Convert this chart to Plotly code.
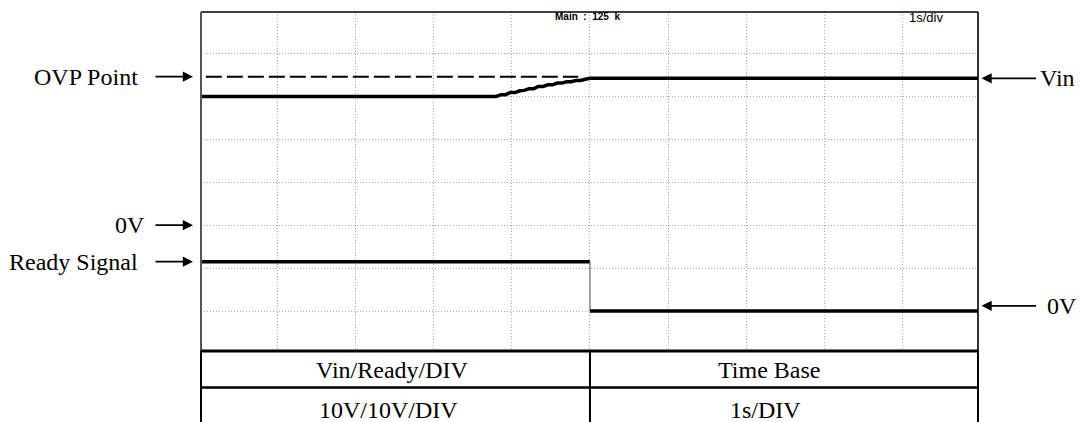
import plotly.graph_objects as go

# Oscilloscope capture of an over-voltage event, in screen divisions
# (x: 1 s/div, y: 10 V/div)
vin_time = [0.0, 3.80, 3.86, 3.92, 3.98, 4.04, 4.10, 4.16, 4.22, 4.28, 4.34,
            4.40, 4.46, 4.52, 4.58, 4.64, 4.70, 4.76, 4.82, 4.88, 4.94, 5.00, 10.0]
vin_level = [6.00, 6.00, 6.04, 6.04, 6.09, 6.09, 6.13, 6.14, 6.18, 6.18, 6.23,
             6.23, 6.27, 6.27, 6.31, 6.31, 6.34, 6.34, 6.37, 6.37, 6.40, 6.42, 6.42]

ovp_time = [0.08, 4.85]
ovp_level = [6.46, 6.46]

ready_high_time = [0.0, 5.0]
ready_high_level = [2.15, 2.15]
ready_edge_time = [5.0, 5.0]
ready_edge_level = [2.15, 1.0]
ready_low_time = [5.0, 10.0]
ready_low_level = [1.0, 1.0]

vin_zero_level = 3.0

table_header = ["Vin/Ready/DIV", "Time Base"]
table_values = ["10V/10V/DIV", "1s/DIV"]

X_RANGE = [0.018, 9.970]
Y_RANGE = [0.068, 7.966]
SERIF = "Liberation Serif, Times New Roman, serif"


def xp(t):
    """Time (divisions) -> paper x."""
    return (t - X_RANGE[0]) / (X_RANGE[1] - X_RANGE[0])


fig = go.Figure()

fig.add_trace(go.Scatter(x=ovp_time, y=ovp_level, mode="lines",
                         line=dict(color="black", width=2, dash="16px,5px"),
                         hoverinfo="skip"))
fig.add_trace(go.Scatter(x=vin_time, y=vin_level, mode="lines",
                         line=dict(color="black", width=3.5),
                         hoverinfo="skip"))
fig.add_trace(go.Scatter(x=ready_high_time, y=ready_high_level, mode="lines",
                         line=dict(color="black", width=3.5),
                         hoverinfo="skip"))
fig.add_trace(go.Scatter(x=ready_edge_time, y=ready_edge_level, mode="lines",
                         line=dict(color="#777777", width=1.3),
                         hoverinfo="skip"))
fig.add_trace(go.Scatter(x=ready_low_time, y=ready_low_level, mode="lines",
                         line=dict(color="black", width=3.4),
                         hoverinfo="skip"))

grid = dict(showgrid=True, gridcolor="#a8a8a8", gridwidth=1, griddash="1px,2px",
            dtick=1, tick0=0, zeroline=False, showticklabels=False,
            ticks="", showline=False)
fig.update_xaxes(range=X_RANGE, **grid)
fig.update_yaxes(range=Y_RANGE, **grid)

shapes = []
# screen frame
shapes.append(dict(type="line", xref="paper", yref="paper", x0=0, x1=1, y0=1, y1=1,
                   line=dict(color="black", width=1.6)))
shapes.append(dict(type="line", xref="paper", yref="paper", x0=1, x1=1, y0=0, y1=1,
                   line=dict(color="black", width=1.6)))
shapes.append(dict(type="line", xref="paper", yref="paper", x0=0, x1=0, y0=0, y1=1,
                   line=dict(color="#555555", width=2)))

# settings table below the screen
row_split = -0.1077
mid = xp(5.0)
shapes.append(dict(type="line", xref="paper", yref="paper", x0=0, x1=1, y0=0, y1=0,
                   line=dict(color="black", width=3)))
shapes.append(dict(type="line", xref="paper", yref="paper", x0=0, x1=1,
                   y0=row_split, y1=row_split, line=dict(color="black", width=2.5)))
for xv in (0, mid, 1):
    shapes.append(dict(type="line", xref="paper", yref="paper", x0=xv, x1=xv,
                       y0=-0.25, y1=0, line=dict(color="black", width=2)))

annotations = []
lab_font = dict(family=SERIF, size=24, color="black")
arrow_common = dict(text="", showarrow=True, arrowhead=2, arrowsize=1.2,
                    arrowwidth=1.7, arrowcolor="black", ay=0, borderpad=0,
                    standoff=0, startstandoff=0)

# left-hand labels with arrows pointing into the screen
left_tip = (193 - 201) / 777
left_labels = [("OVP Point", ovp_level[0], -0.0785),
               ("0V", vin_zero_level, -0.0695),
               ("Ready Signal", ready_high_level[0], -0.0785)]
for txt, lvl, xt in left_labels:
    annotations.append(dict(xref="paper", yref="y", x=left_tip, y=lvl, ax=-38,
                            **arrow_common))
    annotations.append(dict(xref="paper", yref="y", x=xt, y=lvl, text=txt,
                            showarrow=False, xanchor="right", yanchor="middle",
                            font=lab_font))

# right-hand labels with arrows pointing back at the traces
right_tip = (981.5 - 201) / 777
right_labels = [("Vin", vin_level[-1], 1.0772),
                ("0V", ready_low_level[-1] + 0.12, 1.0862)]
for txt, lvl, xt in right_labels:
    annotations.append(dict(xref="paper", yref="y", x=right_tip, y=lvl, ax=55,
                            **arrow_common))
    annotations.append(dict(xref="paper", yref="y", x=xt, y=lvl, text=txt,
                            showarrow=False, xanchor="left", yanchor="middle",
                            font=lab_font))

# scope status text
annotations.append(dict(xref="paper", yref="paper", x=0.497, y=0.988,
                        text="<b>Main\u00a0\u00a0:\u00a0\u00a0125\u00a0\u00a0k</b>",
                        showarrow=False, xanchor="center", yanchor="middle",
                        font=dict(family="Liberation Sans, Arial", size=10, color="black")))
annotations.append(dict(xref="paper", yref="paper", x=0.933, y=0.985, text="1s/div",
                        showarrow=False, xanchor="center", yanchor="middle",
                        font=dict(family="Liberation Sans, Arial", size=13, color="black")))

# table text
row1_y, row2_y = -0.056, -0.174
for txt, cx in zip(table_header, [0.247, 0.7306]):
    annotations.append(dict(xref="paper", yref="paper", x=cx, y=row1_y, text=txt,
                            showarrow=False, xanchor="center", yanchor="middle",
                            font=lab_font))
for txt, cx in zip(table_values, [0.2407, 0.7263]):
    annotations.append(dict(xref="paper", yref="paper", x=cx, y=row2_y, text=txt,
                            showarrow=False, xanchor="center", yanchor="middle",
                            font=lab_font))

fig.update_layout(
    width=1081, height=422,
    margin=dict(l=201, r=103, t=12, b=71, autoexpand=False),
    paper_bgcolor="white", plot_bgcolor="white",
    showlegend=False,
    shapes=shapes, annotations=annotations,
)

fig.write_html("out.html")
